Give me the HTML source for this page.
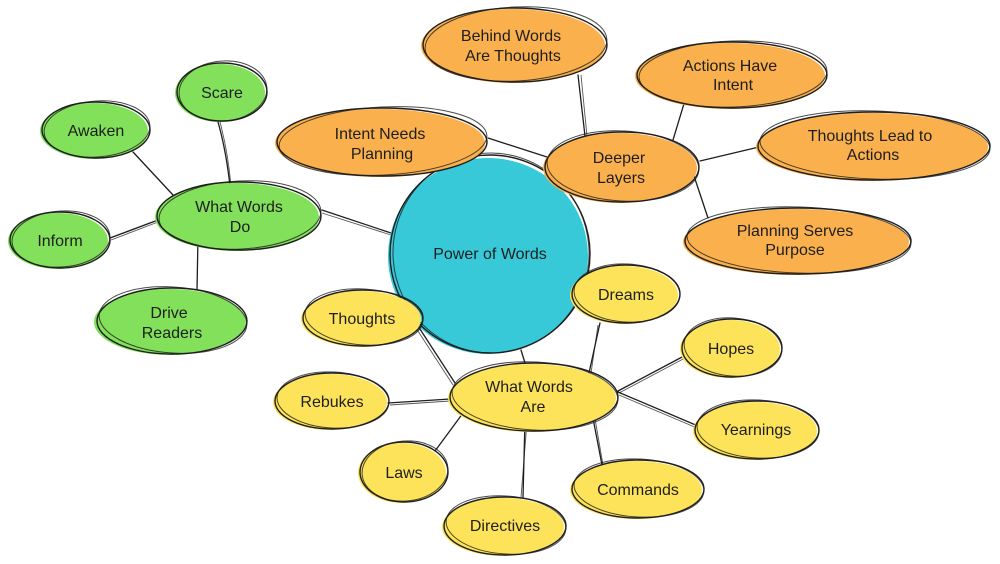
<!DOCTYPE html>
<html><head><meta charset="utf-8"><style>
html,body{margin:0;padding:0;background:#fff;width:1000px;height:564px;overflow:hidden}
svg{display:block}
text{font-family:"Liberation Sans","DejaVu Sans",sans-serif;font-size:16px;fill:#1e1e1e;text-anchor:middle}
.l{stroke:#1e1e1e;stroke-width:1.3;fill:none;stroke-linecap:round}
.l2{stroke:#1e1e1e;stroke-width:0.9;fill:none;opacity:.75}
.s{stroke:#1e1e1e;stroke-width:1.4;fill:none}
.s2{stroke:#1e1e1e;stroke-width:1;fill:none;opacity:.8}
.g{fill:#82e05a}.o{fill:#f9b04d}.y{fill:#fde35a}.c{fill:#38c9d9}
</style></head><body>
<svg width="1000" height="564" viewBox="0 0 1000 564" xmlns="http://www.w3.org/2000/svg">
<!-- connectors -->
<g>
<path class="l" d="M133 152 L173 195"/>
<path class="l" d="M218 122 Q226 150 230 186"/><path class="l2" d="M220 122 Q228 152 231 186"/>
<path class="l" d="M110 238 L158 220"/><path class="l2" d="M111 240 L158 222"/>
<path class="l" d="M198 237 L197 290"/>
<path class="l" d="M322 210 L391 233"/><path class="l2" d="M322 213 L391 235"/>
<path class="l" d="M578 75 L585 136"/><path class="l2" d="M581 75 L587 136"/>
<path class="l" d="M488 138 L547 157"/>
<path class="l" d="M686 97 L673 140"/>
<path class="l" d="M759 147 L700 161"/>
<path class="l" d="M693 173 L708 218"/>
<path class="l" d="M418 326 L455 383"/><path class="l2" d="M416 328 L453 385"/>
<path class="l" d="M521 350 L525 363"/>
<path class="l" d="M600 323 L589 373"/><path class="l2" d="M598 325 L591 373"/>
<path class="l" d="M388 403 L450 399"/><path class="l2" d="M390 405 L450 401"/>
<path class="l" d="M435 451 L466 409"/>
<path class="l" d="M525 420 L523 497"/><path class="l2" d="M527 422 L521 497"/>
<path class="l" d="M592 413 L602 465"/><path class="l2" d="M594 413 L603 465"/>
<path class="l" d="M618 391 L684 356"/><path class="l2" d="M619 393 L685 358"/>
<path class="l" d="M618 392 L698 426"/><path class="l2" d="M619 395 L697 428"/>
</g>

<!-- central -->
<ellipse class="c" cx="488" cy="256" rx="100" ry="98"/>
<ellipse class="s" cx="490" cy="254" rx="100" ry="99"/>
<ellipse class="s2" cx="491" cy="253" rx="98" ry="100" transform="rotate(-4 491 253)"/>
<text x="490" y="259">Power of Words</text>

<!-- green -->
<g>
<ellipse class="g" cx="220" cy="93" rx="45" ry="29"/>
<ellipse class="s" cx="222" cy="92" rx="45" ry="29"/>
<ellipse class="s2" cx="223" cy="91" rx="44" ry="30" transform="rotate(-5 223 91)"/>
<text x="222" y="98">Scare</text>

<ellipse class="g" cx="94" cy="131" rx="54" ry="28"/>
<ellipse class="s" cx="96" cy="130" rx="54" ry="28"/>
<ellipse class="s2" cx="97" cy="129" rx="53" ry="28" transform="rotate(-4 97 129)"/>
<text x="96" y="136">Awaken</text>

<ellipse class="g" cx="237" cy="217" rx="82" ry="34"/>
<ellipse class="s" cx="239" cy="216" rx="82" ry="34"/>
<ellipse class="s2" cx="240" cy="215" rx="81" ry="34" transform="rotate(-3 240 215)"/>
<text x="239" y="212">What Words</text><text x="240" y="232">Do</text>

<ellipse class="g" cx="58" cy="241" rx="50" ry="28"/>
<ellipse class="s" cx="60" cy="240" rx="50" ry="28"/>
<ellipse class="s2" cx="61" cy="239" rx="49" ry="28" transform="rotate(-4 61 239)"/>
<text x="60" y="246">Inform</text>

<ellipse class="g" cx="170" cy="322" rx="76" ry="33"/>
<ellipse class="s" cx="172" cy="321" rx="75" ry="33"/>
<ellipse class="s2" cx="173" cy="320" rx="74" ry="33" transform="rotate(4 173 320)"/>
<text x="169" y="318">Drive</text><text x="172" y="338">Readers</text>
</g>

<!-- orange -->
<g>
<ellipse class="o" cx="513" cy="46" rx="92" ry="37"/>
<ellipse class="s" cx="515" cy="45" rx="92" ry="37"/>
<ellipse class="s2" cx="516" cy="44" rx="91" ry="37" transform="rotate(-3 516 44)"/>
<text x="511" y="41">Behind Words</text><text x="513" y="61">Are Thoughts</text>

<ellipse class="o" cx="380" cy="143" rx="105" ry="34"/>
<ellipse class="s" cx="382" cy="142" rx="105" ry="34"/>
<ellipse class="s2" cx="383" cy="141" rx="104" ry="34" transform="rotate(-3 383 141)"/>
<text x="380" y="139">Intent Needs</text><text x="382" y="159">Planning</text>

<ellipse class="o" cx="620" cy="168" rx="77" ry="35"/>
<ellipse class="s" cx="622" cy="167" rx="77" ry="35"/>
<ellipse class="s2" cx="623" cy="166" rx="76" ry="35" transform="rotate(3 623 166)"/>
<text x="619" y="163">Deeper</text><text x="621" y="183">Layers</text>

<ellipse class="o" cx="730" cy="76" rx="95" ry="33"/>
<ellipse class="s" cx="732" cy="75" rx="95" ry="33"/>
<ellipse class="s2" cx="733" cy="74" rx="94" ry="33" transform="rotate(-2 733 74)"/>
<text x="730" y="71">Actions Have</text><text x="733" y="90">Intent</text>

<ellipse class="o" cx="872" cy="147" rx="116" ry="34"/>
<ellipse class="s" cx="874" cy="146" rx="116" ry="34"/>
<ellipse class="s2" cx="875" cy="145" rx="115" ry="34" transform="rotate(2 875 145)"/>
<text x="870" y="141">Thoughts Lead to</text><text x="873" y="160">Actions</text>

<ellipse class="o" cx="796" cy="242" rx="113" ry="33"/>
<ellipse class="s" cx="798" cy="241" rx="113" ry="33"/>
<ellipse class="s2" cx="799" cy="240" rx="112" ry="33" transform="rotate(2 799 240)"/>
<text x="795" y="236">Planning Serves</text><text x="795" y="255">Purpose</text>
</g>

<!-- yellow -->
<g>
<ellipse class="y" cx="361" cy="319" rx="60" ry="28"/>
<ellipse class="s" cx="363" cy="318" rx="60" ry="28"/>
<ellipse class="s2" cx="364" cy="317" rx="59" ry="28" transform="rotate(4 364 317)"/>
<text x="362" y="324">Thoughts</text>

<ellipse class="y" cx="624" cy="295" rx="54" ry="29"/>
<ellipse class="s" cx="626" cy="294" rx="54" ry="29"/>
<ellipse class="s2" cx="627" cy="293" rx="53" ry="29" transform="rotate(3 627 293)"/>
<text x="626" y="300">Dreams</text>

<ellipse class="y" cx="532" cy="398" rx="84" ry="34"/>
<ellipse class="s" cx="534" cy="397" rx="84" ry="34"/>
<ellipse class="s2" cx="535" cy="396" rx="83" ry="34" transform="rotate(3 535 396)"/>
<text x="529" y="392">What Words</text><text x="533" y="412">Are</text>

<ellipse class="y" cx="330" cy="402" rx="57" ry="28"/>
<ellipse class="s" cx="332" cy="401" rx="57" ry="28"/>
<ellipse class="s2" cx="333" cy="400" rx="56" ry="28" transform="rotate(3 333 400)"/>
<text x="332" y="407">Rebukes</text>

<ellipse class="y" cx="402" cy="473" rx="44" ry="30"/>
<ellipse class="s" cx="404" cy="472" rx="44" ry="30"/>
<ellipse class="s2" cx="405" cy="471" rx="43" ry="30" transform="rotate(-5 405 471)"/>
<text x="404" y="478">Laws</text>

<ellipse class="y" cx="503" cy="527" rx="61" ry="29"/>
<ellipse class="s" cx="505" cy="526" rx="61" ry="29"/>
<ellipse class="s2" cx="506" cy="525" rx="60" ry="29" transform="rotate(4 506 525)"/>
<text x="505" y="531">Directives</text>

<ellipse class="y" cx="636" cy="490" rx="66" ry="29"/>
<ellipse class="s" cx="638" cy="489" rx="66" ry="29"/>
<ellipse class="s2" cx="639" cy="488" rx="65" ry="29" transform="rotate(3 639 488)"/>
<text x="638" y="495">Commands</text>

<ellipse class="y" cx="730" cy="349" rx="50" ry="29"/>
<ellipse class="s" cx="732" cy="348" rx="50" ry="29"/>
<ellipse class="s2" cx="733" cy="347" rx="49" ry="29" transform="rotate(5 733 347)"/>
<text x="731" y="354">Hopes</text>

<ellipse class="y" cx="755" cy="431" rx="62" ry="29"/>
<ellipse class="s" cx="757" cy="430" rx="62" ry="29"/>
<ellipse class="s2" cx="758" cy="429" rx="61" ry="29" transform="rotate(3 758 429)"/>
<text x="756" y="435">Yearnings</text>
</g>
</svg>
</body></html>
